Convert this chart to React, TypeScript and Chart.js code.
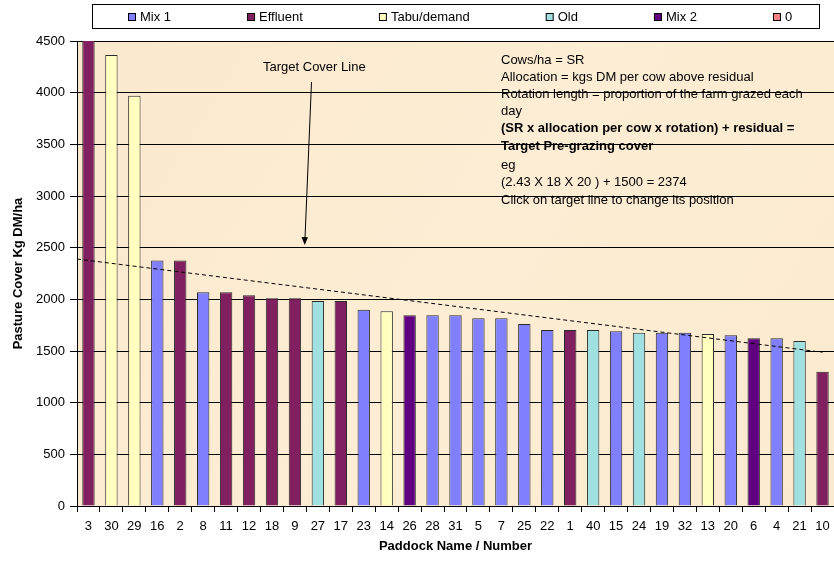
import React, { useEffect, useRef } from 'react';
import { Chart, registerables } from 'chart.js';

Chart.register(...registerables);

// ---- data ----
const paddocks = ['3', '30', '29', '16', '2', '8', '11', '12', '18', '9', '27', '17', '23', '14', '26', '28', '31', '5', '7', '25', '22', '1', '40', '15', '24', '19', '32', '13', '20', '6', '4', '21', '10'];
const cover = [4540, 4365, 3970, 2375, 2375, 2068, 2068, 2039, 2010, 2010, 1984, 1984, 1900, 1884, 1845, 1845, 1845, 1816, 1816, 1761, 1703, 1703, 1703, 1690, 1677, 1677, 1677, 1665, 1652, 1623, 1623, 1597, 1300];
const pastureType = ['Effluent', 'Tabu/demand', 'Tabu/demand', 'Mix 1', 'Effluent', 'Mix 1', 'Effluent', 'Effluent', 'Effluent', 'Effluent', 'Old', 'Effluent', 'Mix 1', 'Tabu/demand', 'Mix 2', 'Mix 1', 'Mix 1', 'Mix 1', 'Mix 1', 'Mix 1', 'Mix 1', 'Effluent', 'Old', 'Mix 1', 'Old', 'Mix 1', 'Mix 1', 'Tabu/demand', 'Mix 1', 'Mix 2', 'Mix 1', 'Old', 'Effluent'];
const seriesNames = ['Mix 1', 'Effluent', 'Tabu/demand', 'Old', 'Mix 2', '0'];
const seriesColors = ['#8080FF', '#802060', '#FFFFC0', '#A0E0E0', '#600080', '#FF8080'];
const yMin = 0;
const yMax = 4500;
const yStep = 500;
const targetLineX = [-0.5, 32];
const targetLineY = [2390, 1488];
const noteLines = [
  'Cows/ha = SR',
  'Allocation = kgs DM per cow above residual',
  'Rotation length = proportion of the farm grazed each',
  'day',
  '(SR x allocation per cow x rotation) + residual =',
  'Target Pre-grazing cover',
  'eg',
  '(2.43 X 18 X 20 ) + 1500 = 2374',
  'Click on target line to change its position',
];
const noteBold = [false, false, false, false, true, true, false, false, false];
const noteY = [60, 77.5, 94.5, 111.5, 128.5, 146.5, 165, 182.5, 200];

const FONT = 'Arial, "Liberation Sans", Helvetica, sans-serif';

const backgroundPlugin = {
  id: 'parchment',
  beforeDraw(chart: any) {
    const { ctx, chartArea: a } = chart;
    ctx.save();
    const g = ctx.createLinearGradient(a.left, a.top, a.right, a.bottom);
    g.addColorStop(0, '#FBE9CE');
    g.addColorStop(0.5, '#FCEDD4');
    g.addColorStop(1, '#FBEACF');
    ctx.fillStyle = g;
    ctx.fillRect(a.left, a.top, a.right - a.left, a.bottom - a.top);
    ctx.restore();
  },
};

const legendPlugin = {
  id: 'boxLegend',
  afterDraw(chart: any) {
    const ctx = chart.ctx;
    ctx.save();
    ctx.strokeStyle = '#000';
    ctx.lineWidth = 1;
    ctx.strokeRect(92.5, 4.5, 727, 24);
    ctx.font = `13px ${FONT}`;
    ctx.textBaseline = 'middle';
    ctx.textAlign = 'left';
    let x = 128;
    chart.data.datasets
      .filter((d: any) => d.type !== 'line')
      .forEach((ds: any) => {
        ctx.fillStyle = ds.backgroundColor;
        ctx.fillRect(x + 0.5, 13.5, 7, 7);
        ctx.strokeStyle = '#000';
        ctx.strokeRect(x + 0.5, 13.5, 7, 7);
        ctx.fillStyle = '#000';
        ctx.fillText(ds.label, x + 12, 17.5);
        x += 12 + ctx.measureText(ds.label).width + 76;
      });
    ctx.restore();
  },
};

const notesPlugin = {
  id: 'notes',
  afterDraw(chart: any) {
    const ctx = chart.ctx;
    ctx.save();
    ctx.fillStyle = '#000';
    ctx.textBaseline = 'middle';
    ctx.textAlign = 'left';
    ctx.font = `13px ${FONT}`;
    ctx.fillText('Target Cover Line', 263, 67.5);
    noteLines.forEach((t, i) => {
      ctx.font = `${noteBold[i] ? 'bold ' : ''}13px ${FONT}`;
      ctx.fillText(t, 501, noteY[i]);
    });
    // arrow
    ctx.strokeStyle = '#000';
    ctx.lineWidth = 1;
    ctx.beginPath();
    ctx.moveTo(311.5, 82);
    ctx.lineTo(305, 238);
    ctx.stroke();
    ctx.beginPath();
    ctx.moveTo(304.7, 245);
    ctx.lineTo(301.5, 237);
    ctx.lineTo(308, 237.3);
    ctx.closePath();
    ctx.fill();
    ctx.restore();
  },
};

export default function App() {
  const ref = useRef<HTMLCanvasElement | null>(null);

  useEffect(() => {
    if (!ref.current) return;
    Chart.defaults.font.family = FONT;
    const barSets = seriesNames.map((name, si) => ({
      type: 'bar' as const,
      label: name,
      data: cover.map((v, i) => (pastureType[i] === name ? v : null)),
      backgroundColor: seriesColors[si],
      borderColor: '#2a2a2a',
      borderWidth: 1,
      borderSkipped: 'start',
      grouped: false,
      barPercentage: 0.54,
      categoryPercentage: 1,
      xAxisID: 'x',
      yAxisID: 'y',
      order: 1,
    }));
    const lineSet = {
      type: 'line' as const,
      label: 'Target',
      data: targetLineX.map((x, i) => ({ x, y: targetLineY[i] })),
      borderColor: '#000',
      borderWidth: 1,
      borderDash: [4, 3],
      pointRadius: 0,
      fill: false,
      xAxisID: 'xl',
      yAxisID: 'y',
      order: 0,
    };
    const chart = new Chart(ref.current, {
      data: { labels: paddocks, datasets: [...barSets, lineSet] as any },
      options: {
        animation: false,
        responsive: true,
        maintainAspectRatio: false,
        layout: { padding: { top: 41, left: 0, right: 0, bottom: 0 } },
        plugins: { legend: { display: false }, tooltip: { enabled: false } },
        scales: {
          x: {
            type: 'category',
            offset: true,
            grid: { display: true, drawOnChartArea: false, offset: true, tickLength: 6, color: '#000' },
            border: { display: true, color: '#000', width: 1 },
            ticks: { color: '#000', font: { size: 13 }, padding: 7, maxRotation: 0, autoSkip: false },
            title: {
              display: true,
              text: 'Paddock Name / Number',
              color: '#000',
              font: { size: 13, weight: 'bold' },
              padding: { top: 0, bottom: 7 },
            },
            afterFit: (s: any) => {
              s.height = 55;
              s.paddingLeft = 0;
              s.paddingRight = 0;
            },
          },
          xl: { type: 'linear', display: false, min: -0.5, max: paddocks.length - 0.5 },
          y: {
            min: yMin,
            max: yMax,
            ticks: {
              stepSize: yStep,
              color: '#000',
              font: { size: 13 },
              padding: 5,
              callback: (v: any) => String(v),
            },
            grid: { color: '#000', tickLength: 7 },
            border: { display: true, color: '#000', width: 1 },
            title: {
              display: true,
              text: 'Pasture Cover Kg DM/ha',
              color: '#000',
              font: { size: 13, weight: 'bold' },
              padding: { top: 11, bottom: 0 },
            },
            afterFit: (s: any) => {
              s.width = 77;
            },
          },
        },
      } as any,
      plugins: [backgroundPlugin, legendPlugin, notesPlugin],
    });
    return () => chart.destroy();
  }, []);

  return (
    <div style={{ position: 'fixed', left: 0, top: 0, width: 834, height: 561, background: '#fff' }}>
      <canvas ref={ref} />
    </div>
  );
}
